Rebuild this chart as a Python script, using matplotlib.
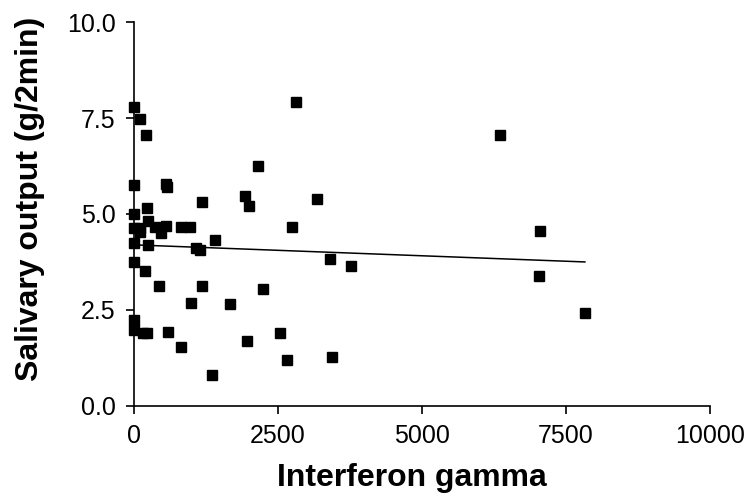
import numpy as np
import matplotlib
matplotlib.use('Agg')
import matplotlib.pyplot as plt

# values
ifn_gamma = [0, 109, 208, 0, 555, 575, 0, 230, 1190, 2157, 1937, 1995, 2752, 2810,
             3187, 0, 104, 104, 237, 364, 463, 555, 827, 971, 1406, 0, 248, 1076,
             1150, 0, 190, 445, 1175, 984, 1665, 2250, 0, 0, 161, 220, 595, 810,
             1358, 1972, 2545, 2660, 3447, 3400, 3770, 6362, 7049, 7038, 7830]
salivary = [7.78, 7.48, 7.05, 5.76, 5.77, 5.70, 5.00, 5.15, 5.30, 6.25, 5.47, 5.21,
            4.66, 7.91, 5.40, 4.63, 4.63, 4.52, 4.82, 4.65, 4.50, 4.69, 4.67, 4.67,
            4.33, 4.24, 4.18, 4.11, 4.05, 3.75, 3.52, 3.11, 3.11, 2.67, 2.65, 3.05,
            2.24, 1.98, 1.89, 1.89, 1.93, 1.54, 0.80, 1.70, 1.90, 1.19, 1.26, 3.83,
            3.63, 7.07, 4.56, 3.39, 2.43]

x_ticks = [0, 2500, 5000, 7500, 10000]
y_ticks = [0.0, 2.5, 5.0, 7.5, 10.0]

plt.rcParams['font.family'] = 'Liberation Sans'

x = np.array(ifn_gamma, dtype=float)
y = np.array(salivary)

fig = plt.figure(figsize=(7.52, 5.04), dpi=100)
ax = fig.add_axes([0.178, 0.195, 0.766, 0.761])

# markers sit on top of the y axis at x = 0, so no clipping
ax.plot(x, y, 's', color='black', markersize=6.5, linestyle='none',
        clip_on=False, zorder=4)

# linear regression line over the data range
slope, intercept = np.polyfit(x, y, 1)
xx = np.array([x.min(), x.max()])
ax.plot(xx, intercept + slope * xx, color='black', linewidth=1.1)

ax.set_xlim(0, 10000)
ax.set_ylim(0, 10)
ax.set_xticks(x_ticks)
ax.set_yticks(y_ticks)
ax.set_yticklabels(['%.1f' % v for v in y_ticks])

for side in ['top', 'right']:
    ax.spines[side].set_visible(False)
for side in ['left', 'bottom']:
    ax.spines[side].set_linewidth(1.2)
ax.tick_params(direction='out', length=6, width=1.2, pad=7, labelsize=18)

ax.set_xlabel('Interferon gamma', fontsize=23, fontweight='bold')
ax.set_ylabel('Salivary output (g/2min)', fontsize=23, fontweight='bold')
ax.xaxis.set_label_coords(0.483, -0.15)
ax.yaxis.set_label_coords(-0.155, 0.54)

fig.savefig('out.png', dpi=100)
